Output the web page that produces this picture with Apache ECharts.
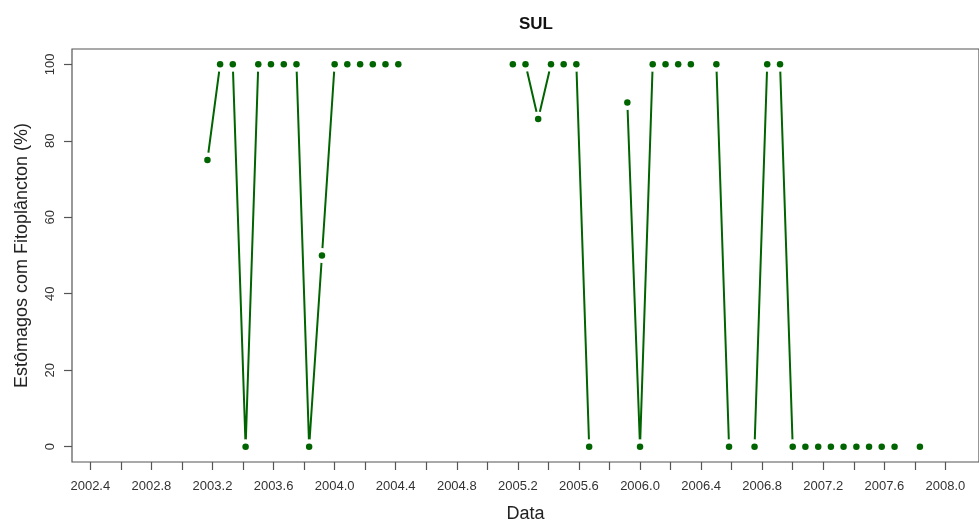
<!DOCTYPE html>
<html>
<head>
<meta charset="utf-8">
<script src="https://cdn.jsdelivr.net/npm/echarts@6/dist/echarts.min.js"></script>
<style>
html,body{margin:0;padding:0;background:#fff;}
#c{width:979px;height:528px;}
</style>
</head>
<body>
<div id="c"></div>
<script>
// Sample dates (decimal years, monthly) and % of stomachs with phytoplankton (null = no sample)
const dates = [
  2003.167, 2003.250, 2003.333, 2003.417, 2003.500, 2003.583, 2003.667, 2003.750, 2003.833, 2003.917,
  2004.000, 2004.083, 2004.167, 2004.250, 2004.333, 2004.417, 2004.500, 2004.583, 2004.667, 2004.750,
  2004.833, 2004.917, 2005.000, 2005.083, 2005.167, 2005.250, 2005.333, 2005.417, 2005.500, 2005.583,
  2005.667, 2005.750, 2005.833, 2005.917, 2006.000, 2006.083, 2006.167, 2006.250, 2006.333, 2006.417,
  2006.500, 2006.583, 2006.667, 2006.750, 2006.833, 2006.917, 2007.000, 2007.083, 2007.167, 2007.250,
  2007.333, 2007.417, 2007.500, 2007.583, 2007.667, 2007.750, 2007.833
];
const values = [
  75, 100, 100, 0, 100, 100, 100, 100, 0, 50,
  100, 100, 100, 100, 100, 100, null, null, null, null,
  null, null, null, null, 100, 100, 85.7, 100, 100, 100,
  0, null, null, 90, 0, 100, 100, 100, 100, null,
  100, 0, null, 0, 100, 100, 0, 0, 0, 0,
  0, 0, 0, 0, 0, null, 0
];
const xTicks = [2002.4, 2002.6, 2002.8, 2003.0, 2003.2, 2003.4, 2003.6, 2003.8, 2004.0, 2004.2,
  2004.4, 2004.6, 2004.8, 2005.0, 2005.2, 2005.4, 2005.6, 2005.8, 2006.0, 2006.2,
  2006.4, 2006.6, 2006.8, 2007.0, 2007.2, 2007.4, 2007.6, 2007.8, 2008.0];
const xLabels = [2002.4, 2002.8, 2003.2, 2003.6, 2004.0, 2004.4, 2004.8, 2005.2, 2005.6, 2006.0,
  2006.4, 2006.8, 2007.2, 2007.6, 2008.0];
const yTicks = [0, 20, 40, 60, 80, 100];

const pairs = dates.map((d, i) => [d, values[i]]);
const pts = pairs.filter(p => p[1] !== null);

const FONT = 'Liberation Sans, Arial, sans-serif';
const GREEN = '#006400';
const AX = '#555';

const chart = echarts.init(document.getElementById('c'), null, {renderer: 'canvas'});
chart.setOption({
  animation: false,
  backgroundColor: '#fff',
  title: {
    text: 'SUL',
    left: 514,
    top: 11,
    textStyle: {fontFamily: FONT, fontWeight: 'bold', fontSize: 17, color: '#111'}
  },
  grid: {
    left: 72, right: -10, top: 49, bottom: 63,
    show: true, borderColor: AX, borderWidth: 1.2, backgroundColor: 'transparent'
  },
  xAxis: {
    type: 'value',
    min: 2002.28, max: 2008.22,
    name: 'Data',
    nameLocation: 'middle',
    nameGap: 43,
    nameTextStyle: {fontFamily: FONT, fontSize: 18, color: '#222'},
    splitLine: {show: false},
    axisLine: {show: false, onZero: false},
    axisTick: {show: true, inside: false, customValues: xTicks, length: 8, lineStyle: {color: AX, width: 1.2}},
    axisLabel: {
      customValues: xLabels, margin: 18,
      fontFamily: FONT, fontSize: 13, color: '#333',
      formatter: v => Number(v).toFixed(1)
    }
  },
  yAxis: {
    type: 'value',
    min: -4, max: 104,
    name: 'Estômagos com Fitoplâncton (%)',
    nameLocation: 'middle',
    nameGap: 41,
    nameTextStyle: {fontFamily: FONT, fontSize: 18, color: '#222'},
    splitLine: {show: false},
    axisLine: {show: false, onZero: false},
    axisTick: {show: true, inside: false, customValues: yTicks, length: 8, lineStyle: {color: AX, width: 1.2}},
    axisLabel: {
      customValues: yTicks, margin: 15, rotate: 90,
      fontFamily: FONT, fontSize: 13, color: '#333'
    }
  },
  series: [
    {
      type: 'line',
      data: pairs,
      connectNulls: false,
      symbol: 'circle',
      symbolSize: 15,
      itemStyle: {color: '#fff', borderWidth: 0, opacity: 1},
      lineStyle: {color: GREEN, width: 2},
      emphasis: {disabled: true},
      silent: true,
      z: 2
    },
    {
      type: 'scatter',
      data: pts,
      symbol: 'circle',
      symbolSize: 6.5,
      itemStyle: {color: GREEN, opacity: 1},
      emphasis: {disabled: true},
      silent: true,
      z: 3
    }
  ]
});
</script>
</body>
</html>
